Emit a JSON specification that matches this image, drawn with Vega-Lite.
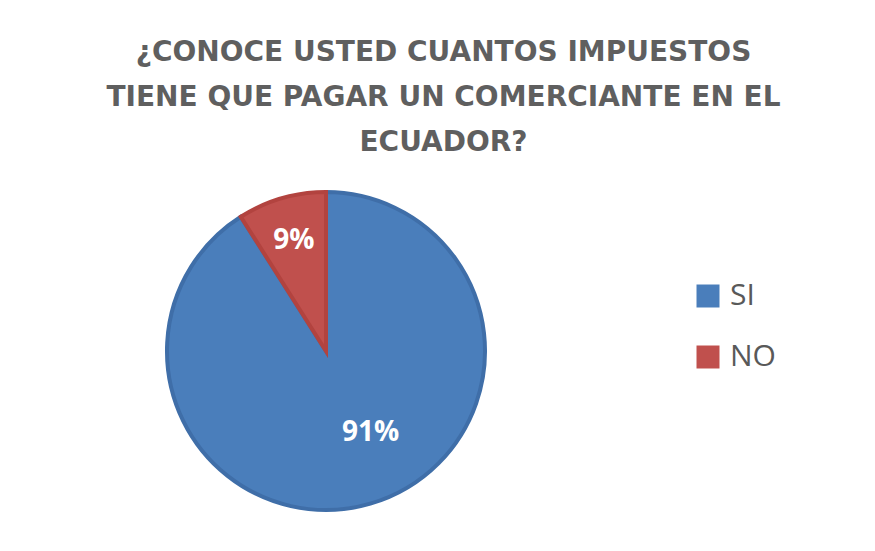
{
  "$schema": "https://vega.github.io/schema/vega-lite/v6.json",
  "width": 875,
  "height": 391,
  "autosize": "none",
  "padding": {"top": 160, "left": 0, "right": 0, "bottom": 0},
  "background": "white",
  "config": {"view": {"stroke": null}},
  "title": {
    "text": ["¿CONOCE USTED CUANTOS IMPUESTOS", "TIENE QUE PAGAR UN COMERCIANTE EN EL", "ECUADOR?"],
    "font": "DejaVu Sans",
    "fontSize": 28,
    "fontWeight": "bold",
    "color": "#5f5f5f",
    "lineHeight": 45,
    "anchor": "middle",
    "dx": 6,
    "offset": 3
  },
  "data": {
    "values": [
      {"respuesta": "SI", "porcentaje": 91, "etiqueta": "91%"},
      {"respuesta": "NO", "porcentaje": 9, "etiqueta": "9%"}
    ]
  },
  "encoding": {
    "theta": {"field": "porcentaje", "type": "quantitative", "stack": true},
    "order": {"field": "respuesta", "sort": "descending"}
  },
  "layer": [
    {
      "mark": {"type": "arc", "x": 326, "y": 191, "radius": 159, "strokeWidth": 4},
      "encoding": {
        "color": {
          "field": "respuesta",
          "type": "nominal",
          "scale": {"domain": ["SI", "NO"], "range": ["#4A7EBB", "#C0504D"]},
          "legend": {
            "title": null,
            "orient": "none",
            "legendX": 693,
            "legendY": 121,
            "symbolType": "square",
            "symbolSize": 529,
            "symbolStrokeWidth": 0,
            "labelFont": "Open Sans",
            "labelFontSize": 30,
            "labelColor": "#595959",
            "labelOffset": 7,
            "rowPadding": 31
          }
        },
        "stroke": {
          "field": "respuesta",
          "type": "nominal",
          "scale": {"domain": ["SI", "NO"], "range": ["#3F6EA8", "#B2433F"]},
          "legend": null
        }
      }
    },
    {
      "mark": {"type": "text", "x": 326, "y": 191, "radius": 115, "font": "Open Sans", "fontSize": 28, "fontWeight": "bold", "color": "white"},
      "encoding": {
        "text": {"field": "etiqueta"},
        "opacity": {"condition": {"test": "datum.respuesta == 'NO'", "value": 1}, "value": 0}
      }
    },
    {
      "mark": {"type": "text", "x": 326, "y": 191, "radius": 95, "dx": 18, "dy": -9, "font": "Open Sans", "fontSize": 28, "fontWeight": "bold", "color": "white"},
      "encoding": {
        "text": {"field": "etiqueta"},
        "opacity": {"condition": {"test": "datum.respuesta == 'SI'", "value": 1}, "value": 0}
      }
    }
  ]
}
